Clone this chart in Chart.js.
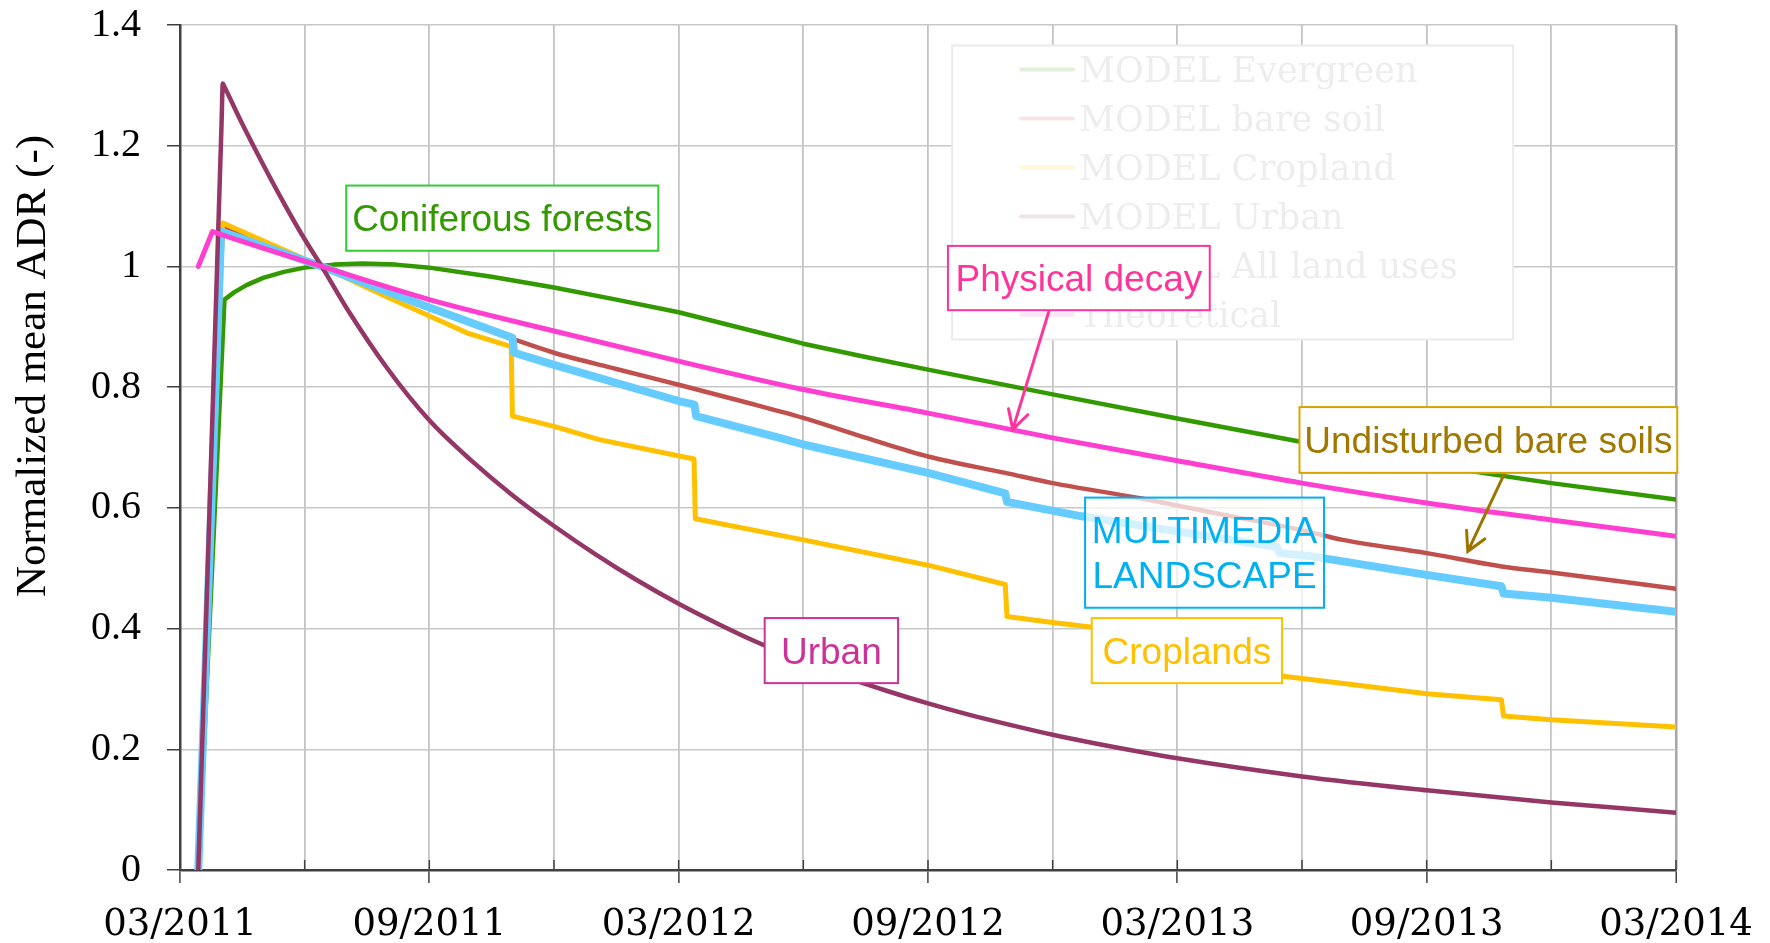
<!DOCTYPE html>
<html>
<head>
<meta charset="utf-8">
<script src="https://cdn.jsdelivr.net/npm/chart.js@4.4.0/dist/chart.umd.min.js"></script>
<style>
  body { margin: 0; background: #fff; }
  canvas { display: block; }
</style>
</head>
<body>
<canvas id="c" width="1770" height="943"></canvas>
<script>
// x values are months after 1 March 2011
const xTickLabels = ['03/2011', '09/2011', '03/2012', '09/2012', '03/2013', '09/2013', '03/2014']
const yTickLabels = ['0', '0.2', '0.4', '0.6', '0.8', '1', '1.2', '1.4']

const evergreenMonths = [0.44, 1.07, 1.3, 1.6, 2.0, 2.5, 3.0, 3.7, 4.4, 5.2, 6.0, 7.5, 9.0, 10.5, 12.0, 13.5, 15, 16.5, 18, 21, 24, 27, 30, 33, 36]
const evergreenADR = [0, 0.945, 0.957, 0.969, 0.981, 0.991, 0.998, 1.003, 1.005, 1.003, 0.998, 0.983, 0.965, 0.945, 0.924, 0.898, 0.872, 0.850, 0.829, 0.788, 0.748, 0.709, 0.672, 0.641, 0.614]

const bareMonths = [0.44, 0.99, 1.02, 1.1, 3.41, 6.0, 8.0, 9.0, 10.5, 12.0, 13.5, 15, 16.55, 18, 19.86, 21, 23.1, 25, 26.93, 27.98, 30, 31.8, 33, 36]
const bareADR = [0, 1.009, 1.064, 1.062, 1.0, 0.930, 0.880, 0.857, 0.830, 0.804, 0.777, 0.749, 0.715, 0.685, 0.658, 0.641, 0.616, 0.590, 0.564, 0.547, 0.525, 0.503, 0.493, 0.466]

const cropMonths = [0.44, 1.03, 3.41, 5.0, 6.9, 7.97, 8.0, 9.0, 10.09, 12.37, 12.4, 15, 18, 19.86, 19.9, 21, 22, 24, 26.42, 26.45, 28, 30, 31.8, 31.85, 33, 36]
const cropADR = [0, 1.072, 1.0, 0.949, 0.890, 0.867, 0.752, 0.735, 0.713, 0.681, 0.582, 0.547, 0.505, 0.473, 0.420, 0.410, 0.402, 0.385, 0.364, 0.322, 0.309, 0.292, 0.282, 0.255, 0.249, 0.237]

const urbanMonths = [0.44, 1.0, 1.03, 1.06, 1.5, 2.0, 2.5, 3.0, 3.41, 4.0, 5.0, 6.0, 7.0, 8.0, 9.0, 10, 11, 12, 13, 14, 15, 16, 17, 18, 19, 20, 21, 22, 24, 27, 30, 33, 36]
const urbanADR = [0, 1.237, 1.303, 1.299, 1.236, 1.169, 1.105, 1.045, 1.0, 0.932, 0.830, 0.745, 0.679, 0.621, 0.570, 0.523, 0.480, 0.441, 0.406, 0.374, 0.346, 0.320, 0.297, 0.276, 0.257, 0.240, 0.224, 0.210, 0.185, 0.155, 0.132, 0.112, 0.095]

const allMonths = [0.44, 0.99, 3.41, 5.0, 6.0, 8.0, 8.04, 9, 12, 12.38, 12.42, 14.43, 15, 18, 19.86, 19.9, 21.7, 24, 26.4, 26.46, 27.2, 30, 31.8, 31.85, 33, 36]
const allADR = [0, 1.058, 1.0, 0.958, 0.932, 0.882, 0.857, 0.837, 0.777, 0.771, 0.752, 0.716, 0.705, 0.658, 0.624, 0.610, 0.586, 0.561, 0.535, 0.525, 0.520, 0.489, 0.470, 0.458, 0.451, 0.428]

const decayMonths = [0.44, 0.74, 0.78, 0.82, 3.41, 6, 9, 12, 15, 18, 21, 24, 27, 30, 33, 36]
const decayADR = [1.0, 1.051, 1.058, 1.057, 1.0, 0.945, 0.893, 0.843, 0.796, 0.757, 0.716, 0.678, 0.641, 0.608, 0.580, 0.553]

function pts(ms, vs) {
    return ms.map((m, i) => ({ x: m, y: vs[i] }))
}

// boxes written on the plot, placed in axis units
const notes = [
    { lines: ['Coniferous forests'], m0: 4.0, m1: 11.51, v0: 1.134, v1: 1.026, color: '#339900', border: '#33cc33' },
    { lines: ['Physical decay'], m0: 18.48, m1: 24.78, v0: 1.034, v1: 0.9275, color: '#ff3399', border: '#ff3399', arrow: [20.91, 0.926, 20.04, 0.730], arrowColor: '#ff3399' },
    { lines: ['Undisturbed bare soils'], m0: 26.94, m1: 36.03, v0: 0.767, v1: 0.658, color: '#a07800', border: '#d9a400', arrow: [31.88, 0.658, 30.99, 0.528], arrowColor: '#9c7400' },
    { lines: ['MULTIMEDIA', 'LANDSCAPE'], m0: 21.78, m1: 27.53, v0: 0.617, v1: 0.4345, color: '#00b0f0', border: '#00b0f0', fill: 'rgba(255,255,255,0.72)' },
    { lines: ['Urban'], m0: 14.07, m1: 17.28, v0: 0.4174, v1: 0.3096, color: '#cc3399', border: '#cc3399' },
    { lines: ['Croplands'], m0: 21.94, m1: 26.52, v0: 0.4174, v1: 0.3096, color: '#ffc000', border: '#ffc000' }
]

const extras = {
    id: 'extras',
    beforeDatasetsDraw(chart) {
        const ctx = chart.ctx
        const xs = chart.scales.x
        const area = chart.chartArea
        ctx.save()
        // small inner tick marks on the date axis
        ctx.strokeStyle = '#404040'
        ctx.lineWidth = 1.5
        xs.ticks.forEach(t => {
            const x = xs.getPixelForValue(t.value)
            ctx.beginPath()
            ctx.moveTo(x, area.bottom)
            ctx.lineTo(x, area.bottom - 10)
            ctx.stroke()
        })

        // faded legend left from the original figure
        const lx = xs.getPixelForValue(18.58), ly = chart.scales.y.getPixelForValue(1.366)
        const lw = xs.getPixelForValue(32.08) - lx, lh = chart.scales.y.getPixelForValue(0.879) - ly
        ctx.fillStyle = '#fff'
        ctx.fillRect(lx, ly, lw, lh)
        ctx.strokeStyle = '#ebebeb'
        ctx.lineWidth = 2
        ctx.strokeRect(lx, ly, lw, lh)
        ctx.font = '35px "DejaVu Serif"'
        ctx.textAlign = 'left'
        ctx.textBaseline = 'alphabetic'
        chart.data.datasets.forEach((ds, i) => {
            const cy = ly + 24 + i * 49
            ctx.globalAlpha = 0.14
            ctx.strokeStyle = ds.borderColor
            ctx.lineWidth = 4
            ctx.lineCap = 'round'
            ctx.beginPath()
            ctx.moveTo(lx + 69, cy)
            ctx.lineTo(lx + 121, cy)
            ctx.stroke()
            ctx.globalAlpha = 1
            ctx.fillStyle = '#ededed'
            ctx.fillText(ds.label, lx + 127, cy + 12.8)
        })
        ctx.restore()
    },
    afterDatasetsDraw(chart) {
        const ctx = chart.ctx
        const X = v => chart.scales.x.getPixelForValue(v)
        const Y = v => chart.scales.y.getPixelForValue(v)
        ctx.save()
        notes.forEach(n => {
            if (n.arrow) {
                const [m0, v0, m1, v1] = n.arrow
                const x0 = X(m0), y0 = Y(v0), x1 = X(m1), y1 = Y(v1)
                ctx.strokeStyle = n.arrowColor
                ctx.lineWidth = 3
                ctx.lineCap = 'round'
                ctx.beginPath()
                ctx.moveTo(x0, y0)
                ctx.lineTo(x1, y1)
                const a = Math.atan2(y0 - y1, x0 - x1)
                const len = 21
                ctx.moveTo(x1 + len * Math.cos(a - 0.5), y1 + len * Math.sin(a - 0.5))
                ctx.lineTo(x1, y1)
                ctx.lineTo(x1 + len * Math.cos(a + 0.5), y1 + len * Math.sin(a + 0.5))
                ctx.stroke()
            }
            const bx = X(n.m0), by = Y(n.v0), bw = X(n.m1) - bx, bh = Y(n.v1) - by
            ctx.fillStyle = n.fill || '#fff'
            ctx.fillRect(bx, by, bw, bh)
            ctx.strokeStyle = n.border
            ctx.lineWidth = 2
            ctx.strokeRect(bx, by, bw, bh)
            ctx.fillStyle = n.color
            ctx.font = '37px "Liberation Sans"'
            ctx.textAlign = 'center'
            ctx.textBaseline = 'alphabetic'
            const pitch = 45
            const cy = by + bh / 2 - (n.lines.length - 1) * pitch / 2
            n.lines.forEach((t, i) => {
                ctx.fillText(t, bx + bw / 2, cy + i * pitch + 0.358 * 37)
            })
        })
        ctx.restore()
    },
    afterDraw(chart) {
        const ctx = chart.ctx
        ctx.save()
        ctx.translate(34, 366)
        ctx.rotate(-Math.PI / 2)
        ctx.font = '43px "Liberation Serif"'
        ctx.fillStyle = '#000'
        ctx.textAlign = 'center'
        ctx.textBaseline = 'middle'
        ctx.fillText('Normalized mean ADR (-)', 0, 0)
        ctx.restore()
    }
}

const line = (label, ms, vs, color, width, order, smooth) => ({
    label: label,
    data: pts(ms, vs),
    borderColor: color,
    backgroundColor: color,
    borderWidth: width,
    pointRadius: 0,
    tension: 0,
    cubicInterpolationMode: smooth ? 'monotone' : 'default',
    fill: false,
    borderJoinStyle: 'round',
    borderCapStyle: 'round',
    order: order
})

new Chart(document.getElementById('c'), {
    type: 'line',
    data: {
        datasets: [
            line('MODEL Evergreen', evergreenMonths, evergreenADR, '#339900', 4.5, 5, false),
            line('MODEL bare soil', bareMonths, bareADR, '#c0504d', 4.5, 4, true),
            line('MODEL Cropland', cropMonths, cropADR, '#ffc000', 5, 3, false),
            line('MODEL Urban', urbanMonths, urbanADR, '#953766', 4.5, 1, true),
            line('MODEL All land uses', allMonths, allADR, '#66ccff', 8, 2, false),
            line('Theoretical', decayMonths, decayADR, '#ff3fcf', 5, 0, true)
        ]
    },
    options: {
        responsive: false,
        devicePixelRatio: 1,
        animation: false,
        layout: { padding: { top: 25, right: 94, left: 0, bottom: 0 } },
        plugins: { legend: { display: false }, tooltip: { enabled: false } },
        scales: {
            x: {
                type: 'linear',
                min: 0,
                max: 36,
                afterFit(s) {
                    s.height = 73
                    s.paddingLeft = 0
                    s.paddingRight = 0
                },
                ticks: {
                    stepSize: 3,
                    autoSkip: false,
                    maxRotation: 0,
                    padding: 20,
                    color: '#000',
                    font: { family: '"DejaVu Serif"', size: 37 },
                    callback: v => (v % 6 === 0 ? xTickLabels[v / 6] : '')
                },
                grid: {
                    color: c => (c.tick && c.tick.value === 36 ? '#a6a6a6' : '#c4c4c4'),
                    lineWidth: c => (c.tick && c.tick.value === 36 ? 2.5 : 1.8),
                    tickLength: 13,
                    tickWidth: 1.5,
                    tickColor: c => (c.tick && c.tick.value % 6 === 0 ? '#404040' : 'rgba(0,0,0,0)')
                },
                border: { display: true, color: '#404040', width: 2.5 }
            },
            y: {
                min: 0,
                max: 1.4,
                afterFit(s) {
                    s.width = 180
                    s.paddingTop = 0
                    s.paddingBottom = 0
                },
                ticks: {
                    stepSize: 0.2,
                    padding: 26,
                    color: '#000',
                    font: { family: '"Liberation Serif"', size: 40 },
                    callback: (v, i) => yTickLabels[i]
                },
                grid: {
                    color: '#c8c8c8',
                    lineWidth: 1.5,
                    tickLength: 13,
                    tickWidth: 1.5,
                    tickColor: '#404040'
                },
                border: { display: true, color: '#404040', width: 2.5 }
            }
        }
    },
    plugins: [extras]
})
</script>
</body>
</html>
